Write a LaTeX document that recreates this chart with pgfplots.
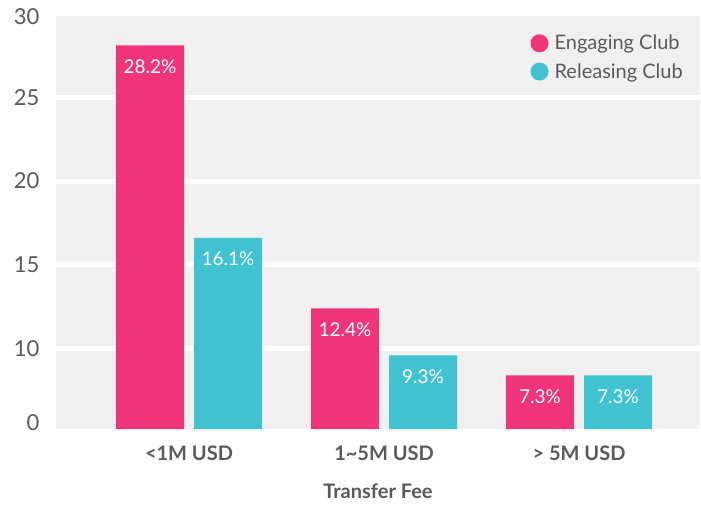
\documentclass[border=0pt]{standalone}
\usepackage{fontspec}
\setmainfont{Lato}
\usepackage{pgfplots}
\pgfplotsset{compat=1.18}
\definecolor{pinkc}{RGB}{239,52,121}
\definecolor{cyanc}{RGB}{64,194,208}
\definecolor{bgc}{RGB}{240,240,240}
\definecolor{txt}{RGB}{90,90,90}
\begin{document}
\begin{tikzpicture}[x=1pt,y=1pt]
\useasboundingbox (0,0) rectangle (701,506);
\begin{axis}[
  at={(56pt,77pt)}, anchor=south west,
  scale only axis, width=644pt, height=413pt,
  axis background/.style={fill=bgc},
  axis line style={draw=none},
  xmin=-0.682, xmax=2.62,
  ymin=5.2, ymax=29.85,
  ybar, bar width=68pt,
  xtick={0,1,2},
  xticklabels={{<1M USD},{1\textasciitilde5M USD},{> 5M USD}},
  xticklabel style={font=\fontsize{20}{24}\selectfont\bfseries, text=txt, yshift=-9pt},
  ytick={10,15,20,25},
  extra y ticks={5.6,29.8},
  extra y tick labels={0,30},
  extra y tick style={grid=none},
  yticklabel style={font=\fontsize{22}{26}\selectfont, text=txt, xshift=-13pt},
  /pgf/number format/assume math mode=true,
  tick style={draw=none},
  ymajorgrids, grid style={white, line width=5pt},
  xlabel={Transfer Fee},
  xlabel style={font=\fontsize{20}{24}\selectfont\bfseries, text=txt, yshift=-16pt},
  point meta=explicit symbolic,
  nodes near coords,
  nodes near coords style={font=\fontsize{19}{22}\selectfont, text=white, anchor=center, yshift=-21pt},
  legend style={draw=none, fill=none, at={(1,1)}, anchor=north east, xshift=-12pt, yshift=-15pt,
    font=\fontsize{20}{24}\selectfont, text=txt, row sep=8pt},
  legend cell align=left,
  legend image code/.code={\fill[#1] (0pt,0pt) circle (9pt); \path (13pt,0pt);},
]
\addplot[fill=pinkc, draw=none, bar shift=-39pt] coordinates {(0,28.1) [28.2\%] (1,12.4) [12.4\%] (2,8.4) [7.3\%]};
\addplot[fill=cyanc, draw=none, bar shift=39pt] coordinates {(0,16.6) [16.1\%] (1,9.6) [9.3\%] (2,8.4) [7.3\%]};
\legend{Engaging Club, Releasing Club}
\end{axis}
\end{tikzpicture}
\end{document}
